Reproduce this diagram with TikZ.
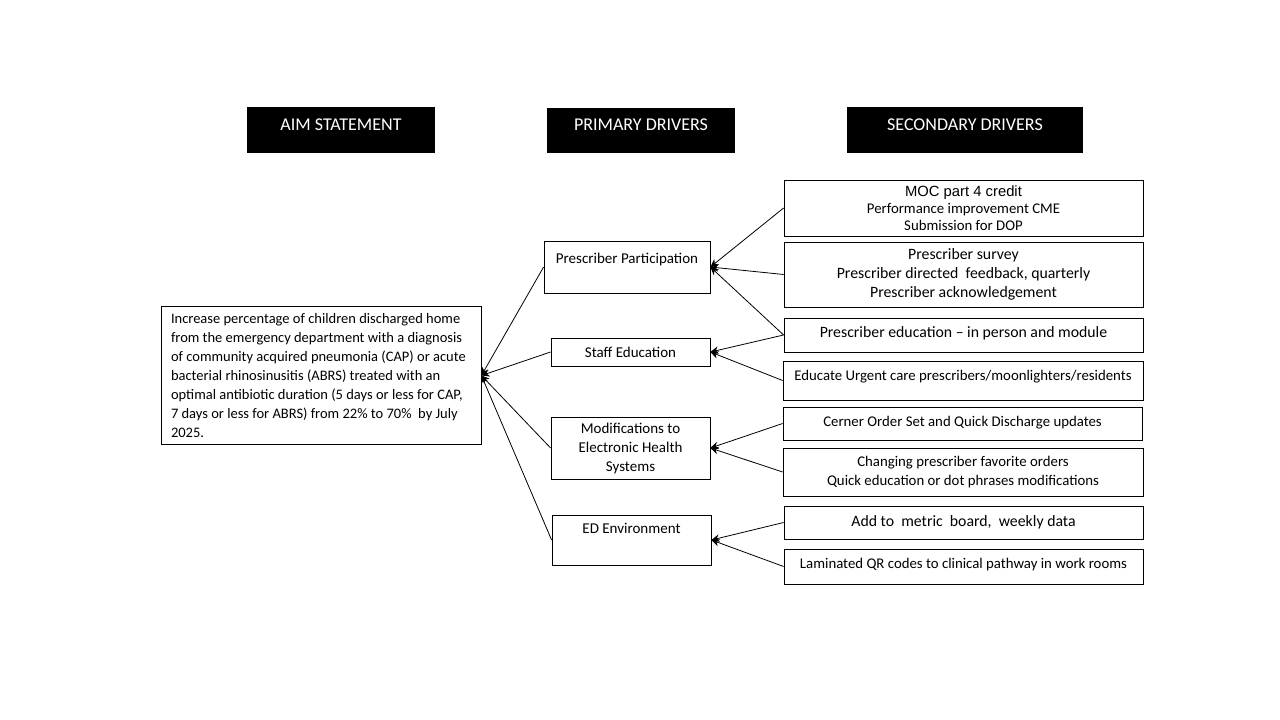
\documentclass[tikz,border=0pt]{standalone}
\usepackage{fontspec}
\setmainfont{Carlito}
\newfontfamily\arialf{Liberation Sans}
\usetikzlibrary{arrows.meta}
\begin{document}
\begin{tikzpicture}[x=1pt,y=-1pt,
  box/.style={draw, line width=0.8pt, inner sep=0pt, align=center, font=\fontsize{15}{19}\selectfont},
  sbig/.style={font=\fontsize{15.8}{19}\selectfont},
  ssm/.style={font=\fontsize{14.8}{19}\selectfont},
  hdr/.style={fill=black, text=white, inner sep=0pt, font=\fontsize{18}{20}\selectfont},
  arr/.style={-{Stealth[length=8pt,width=7.5pt,inset=2.5pt]}, line width=0.8pt}]
\useasboundingbox (0,0) rectangle (1280,720);
% headers
\node[hdr, minimum width=188pt, text height=23pt, text depth=23pt] (h1) at (341,130) {AIM STATEMENT};
\node[hdr, minimum width=188pt, text height=22pt, text depth=23pt] (h2) at (641,130.5) {PRIMARY DRIVERS};
\node[hdr, minimum width=236pt, text height=23pt, text depth=23pt] (h3) at (965,130) {SECONDARY DRIVERS};
% aim
\node[box, align=flush left, inner xsep=10pt, text width=300pt, minimum height=138pt, font=\fontsize{14.5}{19}\selectfont] (aim) at (321,375.5)
 {Increase percentage of children discharged home\\
  from the emergency department with a diagnosis\\
  of community acquired pneumonia (CAP) or acute\\
  bacterial rhinosinusitis (ABRS) treated with an\\
  optimal antibiotic duration (5 days or less for CAP,\\
  7 days or less for ABRS) from 22\% to 70\%\ \ by July\\
  2025.};
% primary
\node[box, minimum width=166pt, text height=22pt, text depth=30pt] (pp) at (627,267) {Prescriber Participation};
\node[box, minimum width=159pt, minimum height=28pt] (se) at (630.5,352) {Staff Education};
\node[box, minimum width=159pt, minimum height=62pt] (mod) at (630.5,448) {Modifications to\\Electronic Health\\Systems};
\node[box, minimum width=159pt, text height=18.5pt, text depth=31.5pt] (ed) at (631.5,540) {ED Environment};
% secondary
\node[box, minimum width=359pt, minimum height=56pt, font=\fontsize{14.8}{17}\selectfont] (s1) at (963.5,208)
 {{\arialf\fontsize{14.8}{17}\selectfont MOC part 4 credit}\\Performance improvement CME\\Submission for DOP};
\node[box, sbig, minimum width=359pt, minimum height=65pt] (s2) at (963.5,274.5)
 {Prescriber survey\\Prescriber directed\ \ feedback, quarterly\\Prescriber acknowledgement};
\node[box, sbig, minimum width=359pt, text height=19pt, text depth=15pt] (s3) at (963.5,335) {Prescriber education -- in person and module};
\node[box, ssm, minimum width=360pt, text height=19pt, text depth=20pt] (s4) at (963,380.5) {Educate Urgent care prescribers/moonlighters/residents};
\node[box, ssm, minimum width=359pt, text height=19pt, text depth=14pt] (s5) at (962.5,423.5) {Cerner Order Set and Quick Discharge updates};
\node[box, ssm, minimum width=360pt, minimum height=48pt] (s6) at (963,472) {Changing prescriber favorite orders\\Quick education or dot phrases modifications};
\node[box, sbig, minimum width=359pt, text height=20pt, text depth=13pt] (s7) at (963.5,522.5) {Add to\ \ metric\ \ board,\ \ weekly data};
\node[box, ssm, minimum width=359pt, text height=19pt, text depth=16pt] (s8) at (963.5,566.5) {Laminated QR codes to clinical pathway in work rooms};
% connectors primary -> aim
\draw[arr] (pp.west) -- (aim.east);
\draw[arr] (se.west) -- (aim.east);
\draw[arr] (mod.west) -- (aim.east);
\draw[arr] (ed.west) -- (aim.east);
% secondary -> primary
\draw[arr] (s1.west) -- (pp.east);
\draw[arr] (s2.west) -- (pp.east);
\draw[arr] (s3.west) -- (pp.east);
\draw[arr] (s3.west) -- (se.east);
\draw[arr] (s4.west) -- (se.east);
\draw[arr] (s5.west) -- (mod.east);
\draw[arr] (s6.west) -- (mod.east);
\draw[arr] (s7.west) -- (ed.east);
\draw[arr] (s8.west) -- (ed.east);
\end{tikzpicture}
\end{document}
